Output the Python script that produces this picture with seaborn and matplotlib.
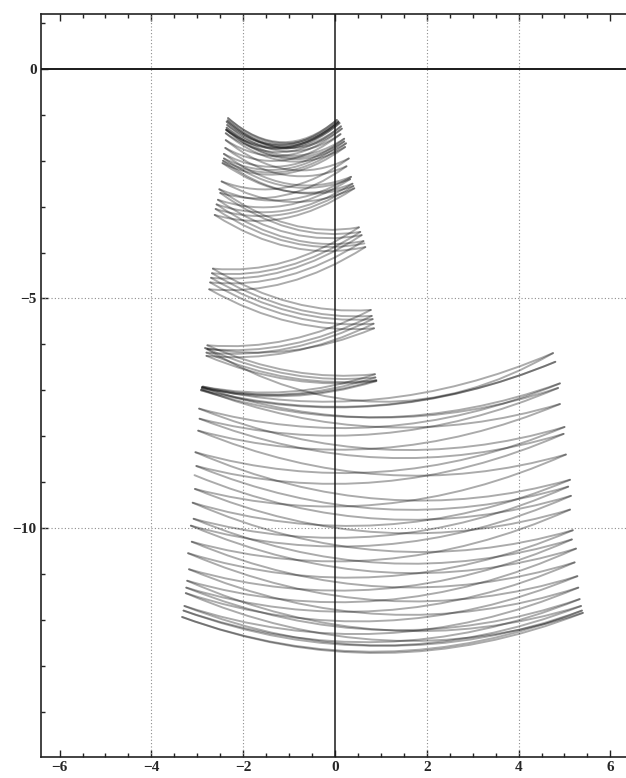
import matplotlib
matplotlib.use("Agg")
import matplotlib.pyplot as plt
from matplotlib.path import Path
from matplotlib.patches import PathPatch
from matplotlib.ticker import MultipleLocator
import seaborn as sns

# Turning points (alternating left / right extremes) of the swing in the upper column
tower_x = [
    0.64, -2.60, 0.40, -2.44, 0.24, -2.37, 0.07,
    -2.33, 0.04, -2.35, 0.12, -2.39, 0.25, -2.50, 0.55, -2.68, 0.80, -2.78, 0.88, -2.90,
    0.90, -2.80, 0.84, -2.72, 0.62, -2.58, 0.38, -2.45, 0.22, -2.38, 0.13, -2.36,
    0.10, -2.37, 0.20, -2.42, 0.33, -2.55, 0.58, -2.70, 0.82, -2.80, 0.90, -2.88,
    0.87, -2.78, 0.78, -2.66, 0.52, -2.52, 0.35, -2.42, 0.20, -2.36, 0.08, -2.34,
    0.15, -2.38, 0.30, -2.47, 0.42, -2.62, 0.66, -2.74, 0.85, -2.83, 4.75,
]
tower_y = [
    -3.80, -3.05, -2.55, -2.00, -1.62, -1.33, -1.14,
    -1.07, -1.11, -1.22, -1.42, -1.72, -2.12, -2.70, -3.55, -4.45, -5.38, -6.10, -6.72, -6.95,
    -6.80, -6.25, -5.55, -4.65, -3.75, -2.95, -2.50, -2.05, -1.70, -1.40, -1.25, -1.15,
    -1.18, -1.32, -1.58, -1.95, -2.40, -2.85, -3.62, -4.55, -5.45, -6.18, -6.78, -6.92,
    -6.65, -6.02, -5.25, -4.35, -3.45, -2.62, -2.35, -1.85, -1.52, -1.28, -1.16, -1.12,
    -1.30, -1.55, -1.95, -2.45, -2.60, -3.18, -3.88, -4.80, -5.65, -6.08, -6.19,
]

# Turning points of the wide swing in the lower region
lower_x = [
    4.75, -2.90, 4.86, -2.95, 4.98, -3.02, 5.08, -3.08, 5.16, -3.18, 5.30, -3.28, 5.38, -3.33,
    5.40, -3.25, 5.28, -3.20, 5.18, -3.10, 5.12, -3.04, 5.00, -2.96, 4.90, -2.92, 4.80,
    -2.91, 4.90, -2.98, 5.03, -3.05, 5.12, -3.12, 5.22, -3.24, 5.33, -3.30, 5.36,
    -3.22, 5.25, -3.14, 5.14, -3.06,
]
lower_y = [
    -6.19, -6.93, -6.95, -7.62, -7.95, -8.65, -9.10, -9.80, -10.25, -10.90, -11.30, -11.70, -11.80, -11.94,
    -11.85, -11.42, -11.05, -10.55, -10.05, -9.45, -8.95, -8.35, -7.80, -7.40, -6.85, -7.00, -6.38,
    -6.98, -7.30, -7.88, -8.40, -9.15, -9.60, -10.30, -10.75, -11.30, -11.55, -11.80, -11.70,
    -11.15, -10.45, -9.95, -9.30, -8.85,
]

# Swing geometry: the column hangs from a pivot just above y = 0,
# the lower region swings on a long, nearly constant radius.
TOWER_PIVOT_Y = 0.3
LOWER_RADIUS = 11.5

x_grid = [-4, -2, 2, 4]
y_grid = [-5, -10]

sns.set_theme(style="ticks")
plt.rcParams["font.family"] = ["Liberation Serif", "DejaVu Serif"]
plt.rcParams["axes.unicode_minus"] = True

W, H = 626, 778
fig = plt.figure(figsize=(W / 100, H / 100), dpi=100)
fig.patch.set_facecolor("white")
ax = fig.add_axes([41 / W, 1 - 757 / H, (W - 41) / W, (757 - 14) / H])
ax.set_facecolor("white")
ax.set_xlim(-6.405, 6.34)
ax.set_ylim(-14.99, 1.198)


def draw_swing(xs, ys, radius_at):
    """Each half swing between two turning points is drawn as a parabolic arc."""
    for x0, y0, x1, y1 in zip(xs[:-1], ys[:-1], xs[1:], ys[1:]):
        a = 1.0 / (2.0 * radius_at(0.5 * (y0 + y1)))
        w = x1 - x0
        ctrl = (0.5 * (x0 + x1), 0.5 * (y0 + y1) - a * w * w / 2.0)
        path = Path([(x0, y0), ctrl, (x1, y1)], [Path.MOVETO, Path.CURVE3, Path.CURVE3])
        ax.add_patch(PathPatch(path, fill=False, edgecolor="black", alpha=0.33,
                               linewidth=1.4, capstyle="round", joinstyle="round", zorder=2))


draw_swing(tower_x, tower_y, lambda ym: TOWER_PIVOT_Y - ym)
draw_swing(lower_x, lower_y, lambda ym: LOWER_RADIUS)

# dotted grid and solid axes through the origin
for gx in x_grid:
    ax.axvline(gx, color="#8c8c8c", linewidth=0.8, linestyle=(0, (1, 2)), zorder=1)
for gy in y_grid:
    ax.axhline(gy, color="#8c8c8c", linewidth=0.8, linestyle=(0, (1, 2)), zorder=1)
ax.axvline(0, color="#1a1a1a", linewidth=1.1, zorder=3)
ax.axhline(0, color="#1a1a1a", linewidth=1.4, zorder=3)

ax.xaxis.set_major_locator(MultipleLocator(2))
ax.xaxis.set_minor_locator(MultipleLocator(0.5))
ax.yaxis.set_major_locator(MultipleLocator(5))
ax.yaxis.set_minor_locator(MultipleLocator(1))
ax.tick_params(which="both", direction="in", top=True, bottom=True, left=True, right=False,
               color="#222222", width=1.0)
ax.tick_params(which="major", length=5, pad=3, labelsize=11)
ax.tick_params(which="minor", length=3)
for lab in ax.get_xticklabels() + ax.get_yticklabels():
    lab.set_fontweight("bold")
ax.grid(False)

for side in ["left", "top", "bottom"]:
    ax.spines[side].set_color("#222222")
    ax.spines[side].set_linewidth(1.2)
ax.spines["right"].set_visible(False)

fig.savefig("out.png", dpi=100, facecolor="white")
